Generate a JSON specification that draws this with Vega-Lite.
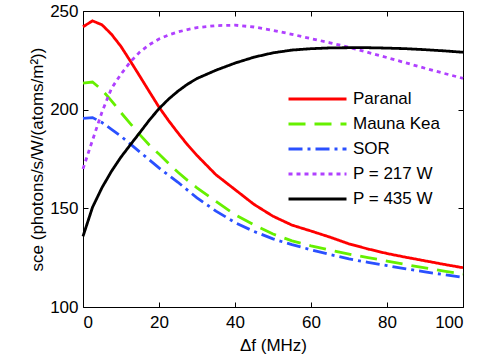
{
 "$schema": "https://vega.github.io/schema/vega-lite/v6.json",
 "width": 380, "height": 296,
 "autosize": {"type": "none"},
 "padding": {"left": 83, "top": 11, "right": 17, "bottom": 54},
 "config": {
   "font": "Liberation Sans",
   "view": {"stroke": "black", "strokeWidth": 1},
   "axis": {"grid": false, "domain": false, "tickColor": "black", "tickSize": -5, "labelColor": "black", "titleColor": "black", "labelFontSize": 17, "titleFontSize": 17, "titleFontWeight": "normal", "labelFont": "Liberation Sans", "titleFont": "Liberation Sans"}
 },
 "data": {"values": [
  {"f":0,"s":242,"k":"Paranal"},{"f":2.5,"s":245,"k":"Paranal"},{"f":5,"s":243,"k":"Paranal"},{"f":7.5,"s":238.2,"k":"Paranal"},{"f":10,"s":232,"k":"Paranal"},{"f":12.5,"s":224.5,"k":"Paranal"},{"f":15,"s":216.8,"k":"Paranal"},{"f":17.5,"s":209,"k":"Paranal"},{"f":20,"s":201.3,"k":"Paranal"},{"f":22.5,"s":194.5,"k":"Paranal"},{"f":25,"s":188.2,"k":"Paranal"},{"f":27.5,"s":182.2,"k":"Paranal"},{"f":30,"s":176.8,"k":"Paranal"},{"f":35,"s":167,"k":"Paranal"},{"f":40,"s":159.5,"k":"Paranal"},{"f":45,"s":152,"k":"Paranal"},{"f":50,"s":146,"k":"Paranal"},{"f":55,"s":141.5,"k":"Paranal"},{"f":60,"s":138.5,"k":"Paranal"},{"f":65,"s":135.4,"k":"Paranal"},{"f":70,"s":132,"k":"Paranal"},{"f":75,"s":129.4,"k":"Paranal"},{"f":80,"s":127.1,"k":"Paranal"},{"f":85,"s":125.2,"k":"Paranal"},{"f":90,"s":123.4,"k":"Paranal"},{"f":95,"s":121.6,"k":"Paranal"},{"f":100,"s":119.9,"k":"Paranal"},
  {"f":0,"s":213.4,"k":"Mauna Kea"},{"f":2.5,"s":214,"k":"Mauna Kea"},{"f":5,"s":210,"k":"Mauna Kea"},{"f":7.5,"s":204.5,"k":"Mauna Kea"},{"f":10,"s":198.5,"k":"Mauna Kea"},{"f":12.5,"s":192.8,"k":"Mauna Kea"},{"f":15,"s":187.2,"k":"Mauna Kea"},{"f":17.5,"s":182,"k":"Mauna Kea"},{"f":20,"s":177.5,"k":"Mauna Kea"},{"f":22.5,"s":172.8,"k":"Mauna Kea"},{"f":25,"s":168.3,"k":"Mauna Kea"},{"f":27.5,"s":164.2,"k":"Mauna Kea"},{"f":30,"s":160.4,"k":"Mauna Kea"},{"f":35,"s":153.5,"k":"Mauna Kea"},{"f":40,"s":146.8,"k":"Mauna Kea"},{"f":45,"s":141.6,"k":"Mauna Kea"},{"f":50,"s":137,"k":"Mauna Kea"},{"f":55,"s":133.5,"k":"Mauna Kea"},{"f":60,"s":131,"k":"Mauna Kea"},{"f":65,"s":128.8,"k":"Mauna Kea"},{"f":70,"s":126.8,"k":"Mauna Kea"},{"f":75,"s":125,"k":"Mauna Kea"},{"f":80,"s":123.3,"k":"Mauna Kea"},{"f":85,"s":121.5,"k":"Mauna Kea"},{"f":90,"s":119.8,"k":"Mauna Kea"},{"f":95,"s":118.2,"k":"Mauna Kea"},{"f":100,"s":116.7,"k":"Mauna Kea"},
  {"f":0,"s":195.6,"k":"SOR"},{"f":2.5,"s":196,"k":"SOR"},{"f":5,"s":193.5,"k":"SOR"},{"f":7.5,"s":190,"k":"SOR"},{"f":10,"s":186.5,"k":"SOR"},{"f":12.5,"s":182.5,"k":"SOR"},{"f":15,"s":178.5,"k":"SOR"},{"f":17.5,"s":174.5,"k":"SOR"},{"f":20,"s":170.5,"k":"SOR"},{"f":22.5,"s":166.8,"k":"SOR"},{"f":25,"s":163.2,"k":"SOR"},{"f":27.5,"s":159.2,"k":"SOR"},{"f":30,"s":155.3,"k":"SOR"},{"f":35,"s":148.6,"k":"SOR"},{"f":40,"s":142.8,"k":"SOR"},{"f":45,"s":138.3,"k":"SOR"},{"f":50,"s":134.5,"k":"SOR"},{"f":55,"s":131.6,"k":"SOR"},{"f":60,"s":129,"k":"SOR"},{"f":65,"s":126.6,"k":"SOR"},{"f":70,"s":124.4,"k":"SOR"},{"f":75,"s":122.6,"k":"SOR"},{"f":80,"s":121,"k":"SOR"},{"f":85,"s":119.3,"k":"SOR"},{"f":90,"s":117.8,"k":"SOR"},{"f":95,"s":116.4,"k":"SOR"},{"f":100,"s":115,"k":"SOR"},
  {"f":0,"s":170,"k":"P = 217 W"},{"f":2.5,"s":184.5,"k":"P = 217 W"},{"f":5,"s":198.8,"k":"P = 217 W"},{"f":7.5,"s":210.8,"k":"P = 217 W"},{"f":10,"s":218,"k":"P = 217 W"},{"f":12.5,"s":224.3,"k":"P = 217 W"},{"f":15,"s":229.3,"k":"P = 217 W"},{"f":17.5,"s":233,"k":"P = 217 W"},{"f":20,"s":235.8,"k":"P = 217 W"},{"f":22.5,"s":237.8,"k":"P = 217 W"},{"f":25,"s":239.4,"k":"P = 217 W"},{"f":27.5,"s":240.6,"k":"P = 217 W"},{"f":30,"s":241.6,"k":"P = 217 W"},{"f":35,"s":242.6,"k":"P = 217 W"},{"f":40,"s":242.8,"k":"P = 217 W"},{"f":45,"s":241.9,"k":"P = 217 W"},{"f":50,"s":240.2,"k":"P = 217 W"},{"f":55,"s":238.2,"k":"P = 217 W"},{"f":60,"s":236,"k":"P = 217 W"},{"f":65,"s":233.9,"k":"P = 217 W"},{"f":70,"s":231.6,"k":"P = 217 W"},{"f":75,"s":229,"k":"P = 217 W"},{"f":80,"s":226.4,"k":"P = 217 W"},{"f":85,"s":223.7,"k":"P = 217 W"},{"f":90,"s":221,"k":"P = 217 W"},{"f":95,"s":218.4,"k":"P = 217 W"},{"f":100,"s":215.9,"k":"P = 217 W"},
  {"f":0,"s":135.8,"k":"P = 435 W"},{"f":2.5,"s":150.5,"k":"P = 435 W"},{"f":5,"s":160.5,"k":"P = 435 W"},{"f":7.5,"s":168.8,"k":"P = 435 W"},{"f":10,"s":176,"k":"P = 435 W"},{"f":12.5,"s":182.3,"k":"P = 435 W"},{"f":15,"s":188.5,"k":"P = 435 W"},{"f":17.5,"s":194.8,"k":"P = 435 W"},{"f":20,"s":200.5,"k":"P = 435 W"},{"f":22.5,"s":205.3,"k":"P = 435 W"},{"f":25,"s":209.4,"k":"P = 435 W"},{"f":27.5,"s":212.9,"k":"P = 435 W"},{"f":30,"s":215.8,"k":"P = 435 W"},{"f":35,"s":220,"k":"P = 435 W"},{"f":40,"s":223.6,"k":"P = 435 W"},{"f":45,"s":226.6,"k":"P = 435 W"},{"f":50,"s":228.8,"k":"P = 435 W"},{"f":55,"s":230.2,"k":"P = 435 W"},{"f":60,"s":230.9,"k":"P = 435 W"},{"f":65,"s":231.3,"k":"P = 435 W"},{"f":70,"s":231.4,"k":"P = 435 W"},{"f":75,"s":231.4,"k":"P = 435 W"},{"f":80,"s":231.2,"k":"P = 435 W"},{"f":85,"s":230.9,"k":"P = 435 W"},{"f":90,"s":230.4,"k":"P = 435 W"},{"f":95,"s":229.8,"k":"P = 435 W"},{"f":100,"s":229.1,"k":"P = 435 W"}
 ]},
 "layer": [
  {"mark": {"type": "line", "strokeWidth": 2.8},
   "encoding": {
     "x": {"field": "f", "type": "quantitative", "scale": {"domain": [0, 100], "nice": false}, "axis": {"values": [0, 20, 40, 60, 80, 100], "title": "Δf (MHz)", "labelPadding": 12, "titlePadding": 7}},
     "y": {"field": "s", "type": "quantitative", "scale": {"domain": [100, 250], "nice": false, "zero": false}, "axis": {"values": [100, 150, 200, 250], "title": "sce  (photons/s/W/(atoms/m²))", "labelPadding": 10, "titlePadding": 3}},
     "color": {"field": "k", "type": "nominal",
       "scale": {"domain": ["Paranal", "Mauna Kea", "SOR", "P = 217 W", "P = 435 W"], "range": ["#ff0000", "#66f000", "#2a50ff", "#b040ff", "#000000"]},
       "legend": {"orient": "none", "legendX": 204, "legendY": 78, "title": null, "symbolType": "stroke", "symbolSize": 3364, "symbolStrokeWidth": 2.8, "clipHeight": 20, "rowPadding": 5, "labelFontSize": 17, "labelOffset": 5, "padding": 0, "labelColor": "black", "labelFont": "Liberation Sans"}},
     "strokeDash": {"field": "k", "type": "nominal",
       "scale": {"domain": ["Paranal", "Mauna Kea", "SOR", "P = 217 W", "P = 435 W"], "range": [[1, 0], [17, 9], [14, 5, 3, 5], [4, 4], [1, 0]]},
       "legend": {"orient": "none", "legendX": 204, "legendY": 78, "title": null, "symbolType": "stroke", "symbolSize": 3364, "symbolStrokeWidth": 2.8, "clipHeight": 20, "rowPadding": 5, "labelFontSize": 17, "labelOffset": 5, "padding": 0, "labelColor": "black", "labelFont": "Liberation Sans"}}
   }
  },
  {"mark": {"type": "point", "opacity": 0},
   "encoding": {
     "x": {"field": "f", "type": "quantitative", "axis": {"orient": "top", "labels": false, "title": null, "values": [0, 20, 40, 60, 80, 100]}},
     "y": {"field": "s", "type": "quantitative", "axis": {"orient": "right", "labels": false, "title": null, "values": [100, 150, 200, 250]}}
   }
  }
 ],
 "resolve": {"axis": {"x": "independent", "y": "independent"}}
}
